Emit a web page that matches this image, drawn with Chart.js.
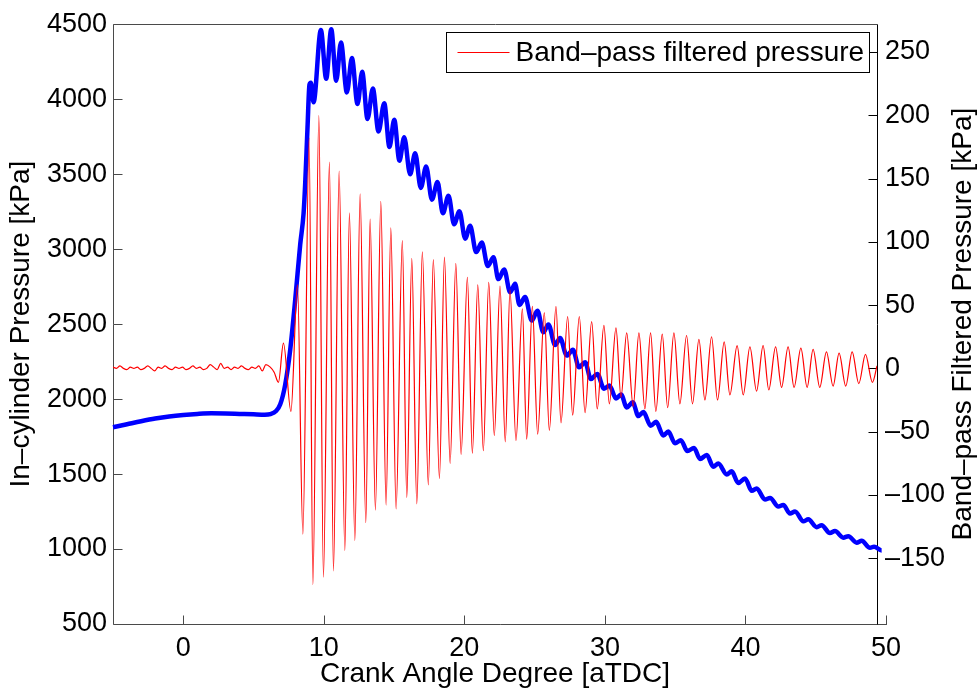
<!DOCTYPE html>
<html>
<head>
<meta charset="utf-8">
<title>In-cylinder pressure and band-pass filtered pressure</title>
<script src="https://cdn.jsdelivr.net/npm/chart.js@4.4.1/dist/chart.umd.min.js"></script>
<style>
  html, body { margin: 0; padding: 0; background: #fff; }
  canvas { display: block; }
</style>
</head>
<body>
<canvas id="knockChart" width="980" height="694"></canvas>
<script>
// Crank angle [deg aTDC] and in-cylinder pressure [kPa] (blue, left axis)
const crankAngle = [
    -5, -4, -3, -2, -1, 0, 1, 2, 3, 4, 5, 5.8, 6.2, 6.6, 6.9, 7.25, 7.61, 7.97, 8.32, 8.56,
    8.68, 8.84, 8.98, 9.08, 9.27, 9.79, 10.17, 10.53, 10.88, 11.22, 11.64, 12.0, 12.4, 12.73,
    13.11, 13.49, 13.89, 14.3, 14.67, 15.01, 15.38, 15.72, 16.14, 16.5, 16.9, 17.28, 17.69,
    18.09, 18.47, 18.87, 19.27, 19.65, 20.06, 20.41, 20.84, 21.24, 21.67, 22.07, 22.42, 22.83,
    23.26, 23.61, 23.92, 24.32, 24.8, 25.2, 25.62, 25.98, 26.46, 26.81, 27.29, 27.72, 28.16,
    28.59, 29.0, 29.46, 29.94, 30.32, 30.79, 31.15, 31.56, 31.98, 32.38, 32.74, 33.26, 33.64,
    34.16, 34.51, 34.99, 35.4, 35.87, 36.34, 36.77, 37.25, 37.71, 38.07, 38.67, 39.02, 39.49,
    39.97, 40.45, 40.8, 41.39, 41.75, 42.34, 42.69, 43.17, 43.53, 44.12, 44.47, 45.07, 45.42,
    46.01, 46.37, 46.96, 47.32, 47.91, 48.27, 48.86, 49.15, 49.69, 50
];
const cylPressure = [
    1812, 1832, 1852, 1870, 1884, 1894, 1901, 1905, 1904, 1901, 1898, 1896, 1900, 1920, 1965, 2095, 2329, 2667, 3031, 3239,
    3447, 3811, 4097, 4110, 3980, 4461, 4136, 4466, 4123, 4378, 4045, 4274, 3967, 4183,
    3868, 4071, 3785, 3972, 3681, 3863, 3590, 3746, 3499, 3640, 3408, 3551, 3330,
    3447, 3239, 3356, 3166, 3252, 3070, 3156, 2980, 3044, 2887, 2946, 2800, 2864,
    2712, 2769, 2628, 2680, 2524, 2589, 2446, 2498, 2360, 2407, 2290, 2329, 2212,
    2246, 2134, 2168, 2069, 2090, 2004, 2030, 1944, 1978, 1887, 1913, 1822, 1848,
    1757, 1783, 1705, 1726, 1653, 1674, 1601, 1627, 1549, 1570, 1497, 1518, 1440,
    1471, 1388, 1404, 1330, 1341, 1284, 1294, 1237, 1250, 1185, 1198, 1146, 1159,
    1107, 1120, 1076, 1086, 1042, 1055, 1008, 1016, 990, 992
];

// Crank angle [deg aTDC] and band-pass filtered pressure [kPa] (red, right axis)
const filtAngle = [
    -5, -4.75, -4.5, -4.25, -4, -3.75, -3.5, -3.25, -3, -2.75, -2.5, -2.25, -2, -1.75, -1.5, -1.25,
    -1, -0.75, -0.5, -0.25, 0, 0.25, 0.5, 0.75, 1, 1.25, 1.5, 1.75, 2, 2.25, 2.5, 2.75, 3, 3.25,
    3.5, 3.75, 4, 4.25, 4.5, 4.75, 5, 5.25, 5.5, 5.75, 6, 6.32, 6.6, 6.91, 7.27, 7.81, 8.28, 8.67,
    9.12, 9.39, 9.82, 10.15, 10.58, 10.87, 11.28, 11.69, 12.02, 12.41, 12.79, 13.2, 13.51, 13.89,
    14.28, 14.66, 15.0, 15.38, 15.83, 16.15, 16.51, 16.87, 17.27, 17.7, 18.06, 18.5, 18.86, 19.27,
    19.68, 20.06, 20.51, 20.87, 21.26, 21.66, 22.05, 22.45, 22.86, 23.24, 23.58, 24.01, 24.47,
    24.78, 25.19, 25.57, 26.05, 26.41, 26.89, 27.25, 27.73, 28.09, 28.57, 28.98, 29.46, 29.86,
    30.34, 30.73, 31.21, 31.57, 31.98, 32.45, 32.86, 33.29, 33.7, 34.08, 34.54, 34.93, 35.38,
    35.81, 36.29, 36.72, 37.18, 37.61, 38.09, 38.52, 39.0, 39.41, 39.93, 40.37, 40.85, 41.33,
    41.8, 42.21, 42.7, 43.13, 43.6, 44.03, 44.52, 44.97, 45.4, 45.88, 46.36, 46.84, 47.27,
    47.75, 48.21, 48.69, 49.17, 49.67, 50
];
const filtPressure = [
    1, 0, 2, 0, -1, 1, 0, 1, -1, 0, 2, 0, -2, 1, 0, 2,
    0, -1, 1, 0, 1, -1, 0, 2, 0, 1, -1, 0, 3, 1, -1, 4, 0, 1,
    -1, 1, 0, 2, 0, -1, 1, 0, 2, -2, 3, 1, -3, -11, 20, -34, 66, -131,
    182, -171, 200, -165, 163, -160, 156, -144, 123, -136, 138, -122, 118, -112,
    132, -108, 111, -111, 101, -102, 87, -107, 92, -92, 86, -87, 88, -75,
    83, -68, 72, -67, 66, -65, 68, -53, 65, -58, 62, -57, 47,
    -56, 49, -52, 44, -49, 49, -43, 41, -37, 41, -35, 37, -32,
    34, -28, 32, -23, 28, -30, 28, -32, 28, -34, 27, -31, 28,
    -28, 26, -28, 23, -25, 25, -25, 21, -21, 18, -21, 17, -18,
    18, -17, 17, -15, 17, -15, 16, -15, 15, -15, 13, -14, 12,
    -14, 13, -12, 11, -11, 2
];

// Tick labels
const angleTicks = [0, 10, 20, 30, 40, 50];
const pressureTicks = [500, 1000, 1500, 2000, 2500, 3000, 3500, 4000, 4500];
const filtTicks = [-150, -100, -50, 0, 50, 100, 150, 200, 250];

const FONT = "'Liberation Sans', Arial, Helvetica, sans-serif";
const AXIS_GRAY = '#4a4a4a';
const TICK_LEN = 9;
const RIGHT_TITLE = 'Band\u2013pass Filtered Pressure [kPa]';

Chart.defaults.font.family = FONT;
Chart.defaults.color = '#000';

const dash = v => (v < 0 ? '\u2013' + Math.abs(v) : String(v));

// Axis box, inward tick marks, legend and right-hand title (MATLAB look)
const matlabAxes = {
    id: 'matlabAxes',
    beforeDatasetsDraw(chart) {
        const { ctx, chartArea: a, scales } = chart;
        const px = v => Math.round(v) + 0.5;
        const L = px(a.left), R = px(a.right), T = px(a.top), B = px(a.bottom);
        const xEnd = scales.x.getPixelForValue(angleTicks[angleTicks.length - 1]) + 1;

        ctx.save();
        ctx.lineWidth = 1;
        ctx.strokeStyle = AXIS_GRAY;
        ctx.beginPath();
        ctx.moveTo(L, T); ctx.lineTo(R, T);
        ctx.moveTo(L, T); ctx.lineTo(L, B); ctx.lineTo(xEnd, B);
        angleTicks.forEach(v => {
            const x = px(scales.x.getPixelForValue(v));
            ctx.moveTo(x, B); ctx.lineTo(x, B - TICK_LEN);
        });
        pressureTicks.forEach(v => {
            const y = px(scales.y.getPixelForValue(v));
            ctx.moveTo(L, y); ctx.lineTo(L + TICK_LEN, y);
        });
        ctx.stroke();

        ctx.strokeStyle = '#000';
        ctx.beginPath();
        ctx.moveTo(R, T); ctx.lineTo(R, B);
        filtTicks.forEach(v => {
            const y = px(scales.y2.getPixelForValue(v));
            ctx.moveTo(R, y); ctx.lineTo(R - TICK_LEN, y);
        });
        ctx.stroke();
        ctx.restore();
    },
    afterDraw(chart) {
        const { ctx, chartArea: a } = chart;
        const ds = chart.data.datasets[0];

        // Legend box (top right inside the axes)
        ctx.save();
        ctx.font = '28px ' + FONT;
        const textW = ctx.measureText(ds.label).width;
        const boxR = Math.round(a.right - 8) + 0.5;
        const boxT = Math.round(a.top + 8) + 0.5;
        const boxH = 40;
        const boxL = Math.round(boxR - (textW + 75)) + 0.5;
        ctx.fillStyle = '#fff';
        ctx.fillRect(boxL, boxT, boxR - boxL, boxH);
        ctx.strokeStyle = '#000';
        ctx.lineWidth = 1;
        ctx.strokeRect(boxL, boxT, boxR - boxL, boxH);
        const midY = boxT + boxH / 2;
        ctx.strokeStyle = ds.borderColor;
        ctx.lineWidth = 1.2;
        ctx.beginPath();
        ctx.moveTo(boxL + 11, midY); ctx.lineTo(boxL + 63, midY);
        ctx.stroke();
        ctx.fillStyle = '#000';
        ctx.textBaseline = 'middle';
        ctx.textAlign = 'left';
        ctx.fillText(ds.label, boxL + 69, midY + 1);

        // Right axis title, reading bottom to top
        ctx.translate(963, (a.top + a.bottom) / 2);
        ctx.rotate(-Math.PI / 2);
        ctx.textAlign = 'center';
        ctx.fillText(RIGHT_TITLE, 0, 0);
        ctx.restore();
    }
};

new Chart(document.getElementById('knockChart'), {
    type: 'line',
    data: {
        datasets: [{
            label: 'Band\u2013pass filtered pressure',
            data: filtAngle.map((a, i) => ({ x: a, y: filtPressure[i] })),
            xAxisID: 'x2',
            yAxisID: 'y2',
            borderColor: '#ff0000',
            borderWidth: 1.2,
            pointRadius: 0,
            cubicInterpolationMode: 'monotone'
        }, {
            label: 'In\u2013cylinder pressure',
            data: crankAngle.map((a, i) => ({ x: a, y: cylPressure[i] })),
            xAxisID: 'x',
            yAxisID: 'y',
            borderColor: '#0000ff',
            borderWidth: 4.5,
            pointRadius: 0,
            cubicInterpolationMode: 'monotone',
            clip: false
        }]
    },
    options: {
        responsive: false,
        animation: false,
        layout: { padding: { top: 14 } },
        plugins: {
            legend: { display: false },
            tooltip: { enabled: false }
        },
        scales: {
            x: {
                type: 'linear',
                position: 'bottom',
                min: -5,
                max: 49.36,
                afterBuildTicks: s => { s.ticks = angleTicks.map(v => ({ value: v })); },
                afterFit: s => { s.height = 70; },
                grid: { display: false, drawTicks: false },
                border: { display: false },
                ticks: { autoSkip: false, padding: 8, font: { size: 27 }, callback: v => dash(v) },
                title: {
                    display: true,
                    text: 'Crank Angle Degree [aTDC]',
                    font: { size: 28 },
                    padding: { top: 0, bottom: 3 }
                }
            },
            x2: {
                type: 'linear',
                display: false,
                min: -5,
                max: 50
            },
            y: {
                position: 'left',
                min: 500,
                max: 4500,
                afterBuildTicks: s => { s.ticks = pressureTicks.map(v => ({ value: v })); },
                afterFit: s => { s.width = 113; },
                grid: { display: false, drawTicks: false },
                border: { display: false },
                ticks: { padding: 6, font: { size: 27 }, callback: v => dash(v) },
                title: {
                    display: true,
                    text: 'In\u2013cylinder Pressure [kPa]',
                    font: { size: 28 },
                    padding: { top: 4, bottom: 0 }
                }
            },
            y2: {
                position: 'right',
                min: -202,
                max: 272,
                afterBuildTicks: s => { s.ticks = filtTicks.map(v => ({ value: v })); },
                afterFit: s => { s.width = 103; },
                grid: { display: false, drawTicks: false },
                border: { display: false },
                ticks: { padding: 8, font: { size: 27 }, callback: v => dash(v) }
            }
        }
    },
    plugins: [matlabAxes]
});
</script>
</body>
</html>
